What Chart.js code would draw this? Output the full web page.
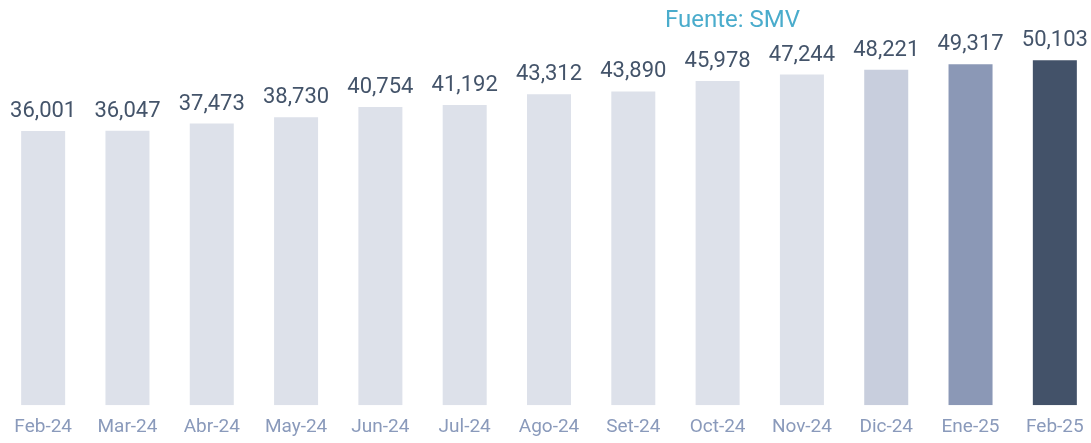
<!DOCTYPE html>
<html>
<head>
<meta charset="utf-8">
<script src="https://cdn.jsdelivr.net/npm/chart.js@4"></script>
<style>
  html, body { margin: 0; padding: 0; background: #fff; overflow: hidden; }
  #wrap { position: relative; width: 1097px; height: 453px; }
  #src { position: absolute; left: 665px; top: 5px; font: 24px Roboto, sans-serif; color: #4aaccc; white-space: nowrap; }
</style>
</head>
<body>
<div id="wrap">
  <canvas id="chart"></canvas>
  <div id="src">Fuente: SMV</div>
</div>
<script>
// datos del gráfico
const months = ['Feb-24','Mar-24','Abr-24','May-24','Jun-24','Jul-24','Ago-24','Set-24','Oct-24','Nov-24','Dic-24','Ene-25','Feb-25'];
const values = [36001, 36047, 37473, 38730, 40754, 41192, 43312, 43890, 45978, 47244, 48221, 49317, 50103];
const barColors = ['#dde1ea','#dde1ea','#dde1ea','#dde1ea','#dde1ea','#dde1ea','#dde1ea','#dde1ea','#dde1ea','#dde1ea','#c8cedd','#8b98b6','#435269'];

const axisMin = -18800;
const axisMax = 62150;

const valueLabels = {
  id: 'valueLabels',
  afterDatasetsDraw(chart) {
    const ctx = chart.ctx;
    const meta = chart.getDatasetMeta(0);
    ctx.save();
    ctx.font = '22px Roboto, sans-serif';
    ctx.fillStyle = '#44546a';
    ctx.textAlign = 'center';
    ctx.textBaseline = 'alphabetic';
    meta.data.forEach((bar, i) => {
      ctx.fillText(values[i].toLocaleString('en-US'), bar.x, bar.y - 14);
    });
    ctx.restore();
  }
};

new Chart(document.getElementById('chart').getContext('2d'), {
  type: 'bar',
  data: {
    labels: months,
    datasets: [{
      data: values,
      base: axisMin,
      backgroundColor: barColors,
      barPercentage: 0.522,
      categoryPercentage: 1,
    }]
  },
  options: {
    responsive: true, maintainAspectRatio: false,
    animation: false,
    layout: { padding: { left: 1, right: 0, top: 0, bottom: 3 } },
    plugins: { legend: { display: false }, tooltip: { enabled: false } },
    scales: {
      x: {
        grid: { display: false, drawTicks: false },
        border: { display: false },
        ticks: { color: '#8a9abb', font: { family: 'Roboto', size: 19 }, padding: 11, maxRotation: 0, autoSkip: false },
      },
      y: { display: false, min: axisMin, max: axisMax },
    },
  },
  plugins: [valueLabels],
});
</script>
</body>
</html>
